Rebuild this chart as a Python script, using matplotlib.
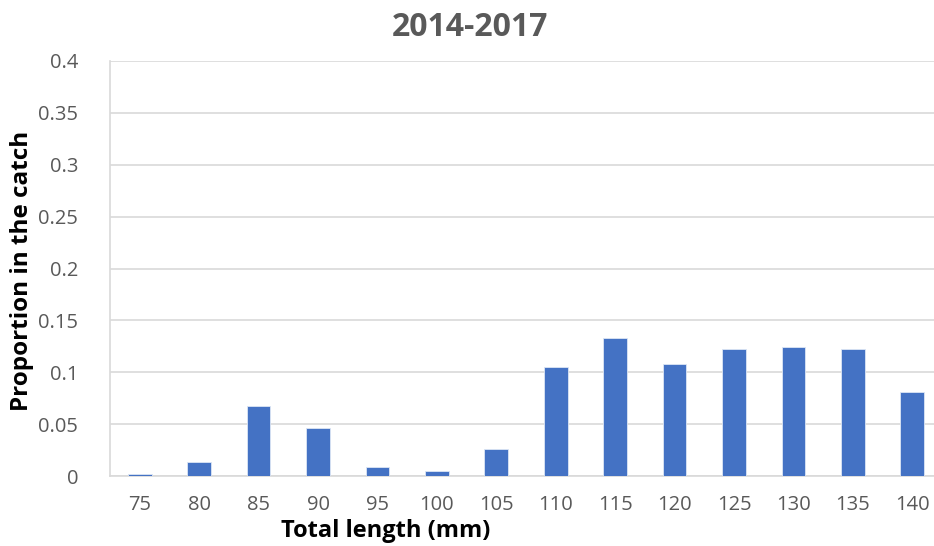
import matplotlib.pyplot as plt

# Längenklassen und Anteile im Fang
lengths = ["75", "80", "85", "90", "95", "100", "105", "110", "115", "120", "125", "130", "135", "140"]
proportion = [0.0016, 0.0135, 0.067, 0.0466, 0.0084, 0.0048, 0.0257, 0.105, 0.133, 0.108, 0.122, 0.124, 0.122, 0.0806]
yticks = [0, 0.05, 0.1, 0.15, 0.2, 0.25, 0.3, 0.35, 0.4]
ytick_labels = ["0", "0.05", "0.1", "0.15", "0.2", "0.25", "0.3", "0.35", "0.4"]

plt.rcParams["font.family"] = ["Open Sans", "DejaVu Sans"]

fig = plt.figure(figsize=(9.34, 5.46), dpi=100)
W, H = 934, 546
ax = fig.add_axes([110 / W, 1 - 476 / H, (942 - 110) / W, (476 - 61) / H])

x = range(len(lengths))
ax.bar(x, proportion, width=0.4, color="#4472C4", edgecolor="#dce6f5", linewidth=0.6, zorder=3)

ax.set_xlim(-0.5, len(lengths) - 0.5)
ax.set_ylim(0, 0.4)
ax.set_yticks(yticks)
ax.set_yticklabels(ytick_labels)
ax.set_xticks(list(x))
ax.set_xticklabels(lengths)
ax.grid(axis="y", color="#d9d9d9", linewidth=1.2, zorder=0)
ax.tick_params(axis="both", length=0, labelsize=14.5, colors="#595959")
ax.tick_params(axis="x", pad=14)
ax.tick_params(axis="y", pad=23)
for s in ["top", "right"]:
    ax.spines[s].set_visible(False)
ax.spines["left"].set_color("#d9d9d9")
ax.spines["left"].set_linewidth(1.2)
ax.spines["bottom"].set_color("#d9d9d9")
ax.spines["bottom"].set_linewidth(1.2)

fig.text(470 / W, 1 - 27 / H, "2014-2017", ha="center", va="center", fontsize=23, fontweight="bold", color="#595959")
fig.text(22 / W, 1 - 271 / H, "Proportion in the catch", ha="center", va="center", rotation=90, fontsize=17.5, fontweight="bold", color="black")
fig.text(386 / W, 1 - 531 / H, "Total length (mm)", ha="center", va="center", fontsize=17, fontweight="bold", color="black")

fig.savefig("out.png", dpi=100)
